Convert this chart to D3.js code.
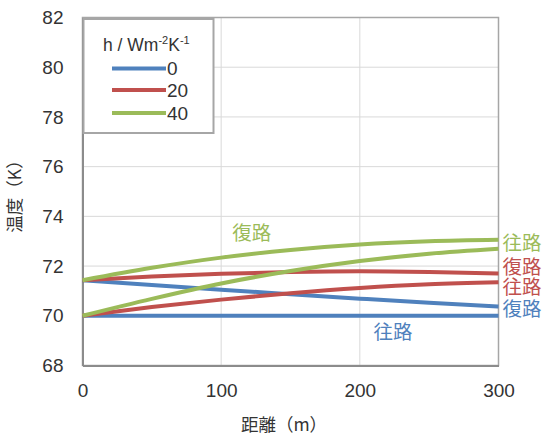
<!DOCTYPE html>
<html><head><meta charset="utf-8">
<script src="https://cdn.jsdelivr.net/npm/d3@7"></script>
<style>
body{margin:0;background:#fff;}
text{font-family:"Liberation Sans",Arial,sans-serif;}
.cjk{font-family:"Noto Sans CJK JP","Noto Sans CJK SC",sans-serif;}
</style></head>
<body>
<svg id="c" width="545" height="437"></svg>
<script>
const distances = [0, 50, 100, 150, 200, 250, 300];
const blueOut  = [70.0, 70.0, 70.0, 70.0, 70.0, 70.0, 70.0];
const blueRet  = [71.43, 71.24, 71.05, 70.87, 70.69, 70.52, 70.37];
const redOut   = [70.0, 70.35, 70.65, 70.91, 71.12, 71.27, 71.35];
const redRet   = [71.43, 71.58, 71.69, 71.76, 71.79, 71.76, 71.7];
const greenOut = [70.0, 70.68, 71.3, 71.8, 72.2, 72.5, 72.7];
const greenRet = [71.43, 71.93, 72.34, 72.65, 72.87, 73.0, 73.06];
const hValues = ["0", "20", "40"];
const colors = ["#4F81BD", "#C0504D", "#9BBB59"];
const yTicks = [68, 70, 72, 74, 76, 78, 80, 82];
const xTicks = [0, 100, 200, 300];

const series = [
  {vals: blueOut, c: 0}, {vals: blueRet, c: 0},
  {vals: redOut, c: 1}, {vals: redRet, c: 1},
  {vals: greenOut, c: 2}, {vals: greenRet, c: 2}
];

const svg = d3.select("#c");
const L = 82.5, R = 498.5, T = 17.5, B = 365.5;
const x = d3.scaleLinear().domain([0, 300]).range([L, R]);
const y = d3.scaleLinear().domain([68, 82]).range([B, T]);

// gridlines
svg.append("g").selectAll("line.h").data(yTicks.slice(1, -1)).join("line")
  .attr("x1", L).attr("x2", R).attr("y1", d => y(d)).attr("y2", d => y(d))
  .attr("stroke", "#d9d9d9").attr("stroke-width", 1);
svg.append("g").selectAll("line.v").data(xTicks.slice(1, -1)).join("line")
  .attr("y1", T).attr("y2", B).attr("x1", d => x(d)).attr("x2", d => x(d))
  .attr("stroke", "#d9d9d9").attr("stroke-width", 1);

// frame
svg.append("rect").attr("x", L).attr("y", T).attr("width", R - L).attr("height", B - T)
  .attr("fill", "none").attr("stroke", "#a6a6a6").attr("stroke-width", 1.5);

// axes
const yAxis = svg.append("g").attr("transform", `translate(${L},0)`)
  .call(d3.axisLeft(y).tickValues(yTicks).tickSize(0).tickPadding(19));
const xAxis = svg.append("g").attr("transform", `translate(0,${B})`)
  .call(d3.axisBottom(x).tickValues(xTicks).tickSize(0).tickPadding(18));
[yAxis, xAxis].forEach(a => {
  a.select(".domain").attr("stroke", "#8c8c8c").attr("stroke-width", 2);
  a.selectAll("text").attr("font-size", 19).attr("fill", "#333")
    .attr("font-family", "'Liberation Sans', Arial, sans-serif");
});

// lines
const line = d3.line().x((d, i) => x(distances[i])).y(d => y(d)).curve(d3.curveMonotoneX);
svg.append("g").selectAll("path").data(series).join("path")
  .attr("d", d => line(d.vals)).attr("fill", "none")
  .attr("stroke", d => colors[d.c]).attr("stroke-width", 4);

// series labels
const labels = [
  {t: "往路", c: 2, xv: 300, yv: 72.93, a: "start", dx: 4},
  {t: "復路", c: 1, xv: 300, yv: 71.98, a: "start", dx: 4},
  {t: "往路", c: 1, xv: 300, yv: 71.15, a: "start", dx: 4},
  {t: "復路", c: 0, xv: 300, yv: 70.28, a: "start", dx: 4},
  {t: "往路", c: 0, xv: 224, yv: 69.35, a: "middle", dx: 0},
  {t: "復路", c: 2, xv: 122, yv: 73.33, a: "middle", dx: 0}
];
svg.append("g").selectAll("text").data(labels).join("text")
  .attr("class", "cjk")
  .attr("x", d => x(d.xv) + d.dx).attr("y", d => y(d.yv))
  .attr("dy", "0.36em").attr("text-anchor", d => d.a)
  .attr("font-size", 19.5).attr("fill", d => colors[d.c]).text(d => d.t);

// axis titles
svg.append("text").attr("class", "cjk").attr("x", 284).attr("y", 425)
  .attr("dy", "0.35em").attr("text-anchor", "middle").attr("font-size", 17.5)
  .attr("fill", "#333").text("距離（m）");
svg.append("text").attr("class", "cjk")
  .attr("transform", "translate(15,192) rotate(-90)")
  .attr("dy", "0.35em").attr("text-anchor", "middle").attr("font-size", 17.5)
  .attr("fill", "#333").text("温度（K）");

// legend
const lg = svg.append("g");
lg.append("rect").attr("x", 83.5).attr("y", 19).attr("width", 130).attr("height", 114)
  .attr("fill", "#fff").attr("stroke", "#a6a6a6").attr("stroke-width", 2);
const title = lg.append("text").attr("x", 103).attr("y", 51).attr("font-size", 17.5).attr("fill", "#333");
title.append("tspan").text("h / Wm");
title.append("tspan").attr("dy", -7).attr("font-size", 11).text("-2");
title.append("tspan").attr("dy", 7).text("K");
title.append("tspan").attr("dy", -7).attr("font-size", 11).text("-1");
const items = lg.selectAll("g.it").data(hValues).join("g")
  .attr("transform", (d, i) => `translate(0,${[68.5, 90, 113][i]})`);
items.append("line").attr("x1", 112).attr("x2", 166).attr("y1", 0).attr("y2", 0)
  .attr("stroke", (d, i) => colors[i]).attr("stroke-width", 4);
items.append("text").attr("x", 167).attr("y", 0).attr("dy", "0.36em")
  .attr("font-size", 19).attr("fill", "#333").text(d => d);
</script>
</body></html>
